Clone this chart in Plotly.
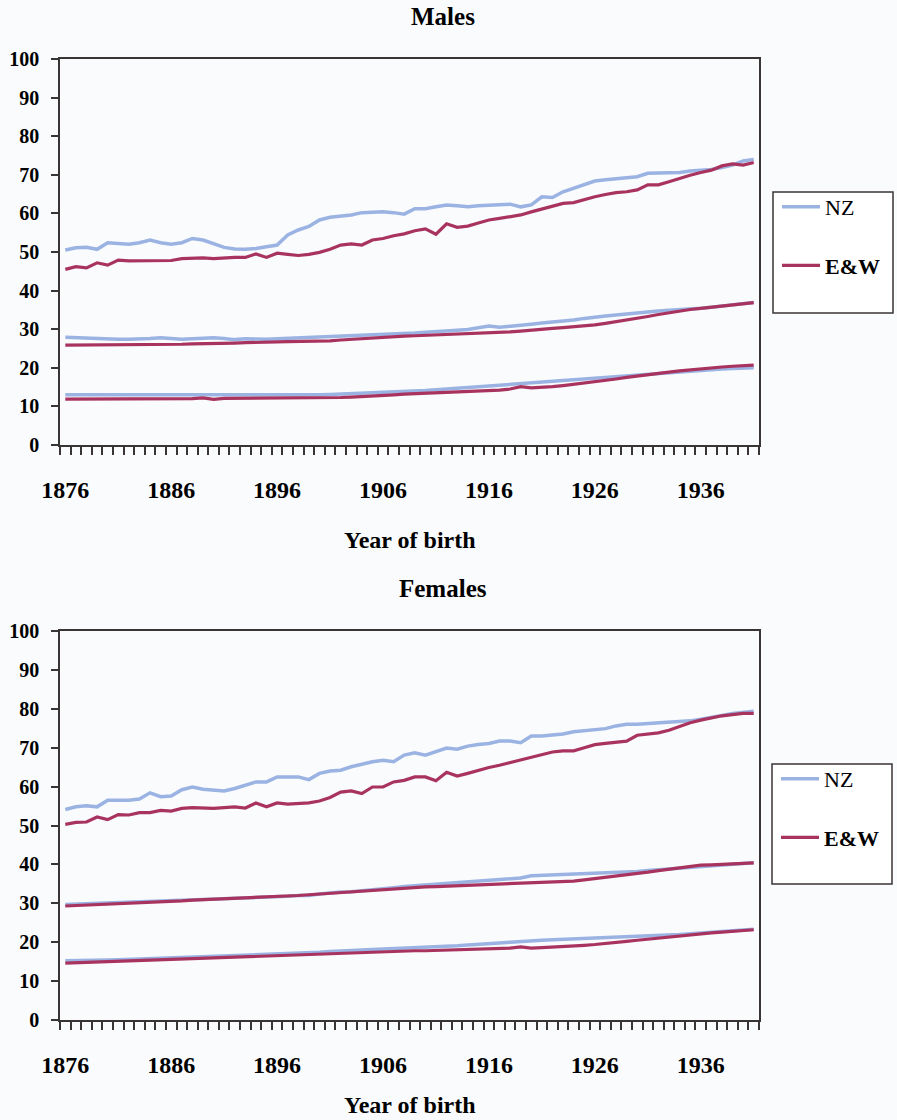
import plotly.graph_objects as go

# Year of birth, one category per year
years = list(range(1876, 1942))
year_ticks = [1876, 1886, 1896, 1906, 1916, 1926, 1936]
y_ticks = list(range(0, 101, 10))

# ---- Males ----
males_nz_upper = [50.5, 51.1, 51.2, 50.7, 52.4, 52.1, 52.0, 52.4, 53.1, 52.4,
                  52.0, 52.4, 53.5, 53.1, 52.1, 51.2, 50.8, 50.7, 50.9, 51.4,
                  51.8, 54.4, 55.7, 56.6, 58.3, 59.0, 59.3, 59.6, 60.2, 60.4,
                  60.4, 60.2, 59.8, 61.2, 61.2, 61.7, 62.2, 62.0, 61.7, 62.0,
                  62.2, 62.4, 62.4, 61.7, 62.2, 64.3, 64.1, 65.6, 66.5, 67.6,
                  68.4, 68.7, 68.9, 69.3, 69.5, 70.4, 70.4, 70.6, 70.6, 71.0,
                  71.1, 71.4, 71.9, 72.5, 73.6, 74.0]
males_ew_upper = [45.5, 46.2, 45.9, 47.2, 46.6, 47.9, 47.7, 47.7, 47.8, 47.9,
                  47.8, 48.3, 48.5, 48.5, 48.3, 48.5, 48.6, 48.6, 49.5, 48.6,
                  49.7, 49.4, 49.1, 49.4, 49.9, 50.7, 51.8, 52.1, 51.8, 53.1,
                  53.5, 54.2, 54.7, 55.5, 56.0, 54.6, 57.3, 56.4, 56.7, 57.5,
                  58.3, 58.7, 59.2, 59.6, 60.4, 61.1, 61.9, 62.6, 62.8, 63.6,
                  64.3, 64.9, 65.4, 65.6, 66.1, 67.4, 67.4, 68.2, 69.1, 69.9,
                  70.6, 71.2, 72.3, 72.8, 72.5, 73.2]
males_nz_middle = [27.9, 27.8, 27.5, 27.4, 27.4, 27.4, 27.4, 27.4, 27.6, 27.8,
                   27.5, 27.4, 27.5, 27.6, 27.8, 27.6, 27.3, 27.5, 27.4, 27.4,
                   27.5, 27.6, 27.7, 27.9, 28.0, 28.2, 28.3, 28.4, 28.5, 28.6,
                   28.7, 28.8, 28.9, 29.0, 29.2, 29.3, 29.5, 29.7, 29.9, 30.3,
                   30.8, 30.5, 30.7, 31.0, 31.3, 31.6, 31.8, 32.1, 32.4, 32.8,
                   33.2, 33.4, 33.7, 34.0, 34.3, 34.5, 34.7, 34.9, 35.0, 35.2,
                   35.4, 35.7, 36.0, 36.3, 36.6, 36.9]
males_ew_middle = [25.9, 25.9, 25.9, 25.9, 25.9, 25.9, 25.9, 25.9, 25.9, 25.9,
                   26.0, 26.1, 26.2, 26.2, 26.3, 26.3, 26.4, 26.5, 26.5, 26.6,
                   26.7, 26.8, 26.8, 26.8, 26.9, 27.0, 27.2, 27.4, 27.6, 27.8,
                   27.9, 28.1, 28.2, 28.3, 28.4, 28.5, 28.6, 28.7, 28.8, 28.9,
                   29.0, 29.1, 29.3, 29.5, 29.8, 30.0, 30.2, 30.4, 30.6, 30.8,
                   31.1, 31.5, 31.9, 32.3, 32.8, 33.3, 33.8, 34.3, 34.8, 35.1,
                   35.4, 35.7, 36.0, 36.3, 36.6, 36.9]
males_nz_lower = [13.0, 13.0, 13.0, 13.0, 13.0, 13.0, 13.0, 13.0, 13.0, 13.0,
                  13.0, 13.0, 12.9, 12.9, 13.0, 12.9, 12.8, 12.9, 12.9, 12.9,
                  12.9, 12.9, 13.0, 13.0, 13.0, 13.1, 13.2, 13.2, 13.3, 13.4,
                  13.5, 13.6, 13.8, 13.9, 14.1, 14.3, 14.5, 14.7, 14.9, 15.1,
                  15.3, 15.5, 15.7, 16.0, 16.3, 16.5, 16.7, 16.9, 17.1, 17.3,
                  17.5, 17.7, 17.9, 18.0, 18.2, 18.4, 18.6, 18.8, 19.0, 19.2,
                  19.4, 19.6, 19.7, 19.8, 19.9, 20.0]
males_ew_lower = [11.9, 11.9, 11.9, 11.9, 11.9, 11.9, 11.9, 11.9, 11.9, 11.9,
                  11.9, 11.9, 12.0, 12.2, 11.8, 12.1, 12.1, 12.1, 12.1, 12.1,
                  12.1, 12.1, 12.1, 12.1, 12.1, 12.2, 12.3, 12.4, 12.5, 12.6,
                  12.8, 13.0, 13.2, 13.3, 13.4, 13.5, 13.6, 13.7, 13.9, 14.0,
                  14.1, 14.2, 14.5, 15.1, 14.8, 14.9, 15.1, 15.4, 15.7, 16.0,
                  16.3, 16.7, 17.1, 17.5, 17.9, 18.2, 18.5, 18.9, 19.2, 19.5,
                  19.8, 20.0, 20.2, 20.4, 20.5, 20.7]

# ---- Females ----
females_nz_upper = [54.1, 54.8, 55.1, 54.8, 56.5, 56.5, 56.5, 56.8, 58.4, 57.4,
                    57.6, 59.2, 59.9, 59.3, 59.2, 58.9, 59.5, 60.4, 61.2, 61.2,
                    62.5, 62.5, 62.5, 61.8, 63.4, 64.0, 64.2, 65.1, 65.8, 66.4,
                    66.8, 66.4, 68.1, 68.7, 68.1, 68.9, 69.9, 69.6, 70.4, 70.8,
                    71.1, 71.7, 71.7, 71.3, 73.0, 73.0, 73.2, 73.5, 74.1, 74.3,
                    74.5, 74.9, 75.6, 76.0, 76.0, 76.2, 76.4, 76.5, 76.6, 76.9,
                    77.3, 77.9, 78.3, 78.8, 79.0, 79.4]
females_ew_upper = [50.3, 50.8, 50.9, 52.2, 51.5, 52.8, 52.7, 53.3, 53.3, 53.9,
                    53.7, 54.4, 54.6, 54.4, 54.4, 54.6, 54.8, 54.5, 55.8, 54.8,
                    55.8, 55.5, 55.7, 55.8, 56.3, 57.2, 58.6, 58.9, 58.2, 59.9,
                    59.9, 61.2, 61.6, 62.5, 62.5, 61.5, 63.7, 62.7, 63.4, 64.2,
                    64.9, 65.5, 66.2, 66.9, 67.6, 68.2, 68.9, 69.2, 69.2, 70.0,
                    70.8, 71.1, 71.3, 71.7, 73.2, 73.4, 73.8, 74.5, 75.5, 76.4,
                    77.1, 77.7, 78.2, 78.5, 78.8, 78.8]
females_nz_middle = [29.7, 29.8, 29.8, 29.9, 29.9, 30.0, 30.1, 30.2, 30.3, 30.4,
                     30.5, 30.7, 30.8, 30.9, 31.0, 31.1, 31.2, 31.3, 31.4, 31.5,
                     31.7, 31.8, 32.0, 32.0, 32.4, 32.7, 32.9, 33.0, 33.2, 33.4,
                     33.8, 34.0, 34.3, 34.5, 34.7, 34.9, 35.1, 35.4, 35.6, 35.6,
                     35.8, 36.0, 36.2, 36.5, 37.1, 37.2, 37.2, 37.3, 37.4, 37.5,
                     37.6, 37.8, 37.9, 38.0, 38.2, 38.4, 38.6, 38.8, 39.1, 39.3,
                     39.5, 39.7, 39.9, 40.0, 40.2, 40.4]
females_ew_middle = [29.3, 29.4, 29.5, 29.6, 29.7, 29.8, 29.9, 30.0, 30.1, 30.3,
                     30.5, 30.6, 30.8, 30.9, 31.0, 31.1, 31.2, 31.3, 31.4, 31.5,
                     31.7, 31.8, 32.0, 32.2, 32.4, 32.6, 32.8, 33.0, 33.2, 33.4,
                     33.6, 33.8, 34.0, 34.1, 34.2, 34.3, 34.4, 34.5, 34.5, 34.6,
                     34.7, 34.8, 35.0, 35.1, 35.2, 35.3, 35.3, 35.5, 35.7, 36.0,
                     36.3, 36.6, 36.9, 37.2, 37.6, 38.0, 38.4, 38.8, 39.2, 39.6,
                     39.8, 39.9, 40.0, 40.1, 40.3, 40.4]
females_nz_lower = [15.2, 15.2, 15.3, 15.3, 15.4, 15.5, 15.6, 15.6, 15.7, 15.8,
                    15.9, 16.0, 16.1, 16.2, 16.3, 16.4, 16.5, 16.6, 16.7, 16.7,
                    16.8, 16.9, 17.0, 17.2, 17.4, 17.6, 17.8, 17.9, 18.0, 18.1,
                    18.2, 18.4, 18.6, 18.7, 18.8, 18.9, 19.0, 19.1, 19.3, 19.4,
                    19.6, 19.8, 20.0, 20.2, 20.5, 20.5, 20.6, 20.7, 20.8, 20.9,
                    21.0, 21.1, 21.2, 21.3, 21.4, 21.5, 21.6, 21.8, 22.0, 22.2,
                    22.4, 22.6, 22.8, 23.0, 23.1, 23.3]
females_ew_lower = [14.6, 14.7, 14.8, 14.9, 15.0, 15.1, 15.2, 15.3, 15.4, 15.5,
                    15.6, 15.7, 15.8, 15.9, 16.0, 16.1, 16.2, 16.3, 16.4, 16.5,
                    16.6, 16.7, 16.8, 16.9, 17.0, 17.1, 17.2, 17.3, 17.4, 17.4,
                    17.5, 17.6, 17.7, 17.8, 17.8, 17.9, 17.9, 18.0, 18.0, 18.1,
                    18.2, 18.3, 18.5, 18.8, 18.5, 18.6, 18.7, 18.9, 19.0, 19.2,
                    19.4, 19.6, 19.9, 20.2, 20.5, 20.8, 21.1, 21.4, 21.7, 22.0,
                    22.2, 22.4, 22.6, 22.8, 23.0, 23.2]

NZ_COLOR = "#9BB3E2"
EW_COLOR = "#A9335F"
BG = "#FAFBFD"
AXIS_COLOR = "#3A3535"
SERIF = "Liberation Serif"

W, H = 897, 1120


def px_x(v):
    return v / W


def px_y(v):
    return 1 - v / H


panels = [
    dict(title="Males", xa="x", ya="y", legend="legend",
         nz=[males_nz_upper, males_nz_middle, males_nz_lower],
         ew=[males_ew_upper, males_ew_middle, males_ew_lower],
         top=59, bottom=445, title_y=17, xtitle_y=540,
         box=(773, 192, 893, 313)),
    dict(title="Females", xa="x2", ya="y2", legend="legend2",
         nz=[females_nz_upper, females_nz_middle, females_nz_lower],
         ew=[females_ew_upper, females_ew_middle, females_ew_lower],
         top=631, bottom=1020, title_y=588, xtitle_y=1105,
         box=(772, 764, 892, 884)),
]

fig = go.Figure()

for p in panels:
    for k, series in enumerate(p["nz"]):
        fig.add_trace(go.Scatter(
            x=years, y=series, mode="lines", name="NZ",
            line=dict(color=NZ_COLOR, width=3.5),
            showlegend=(k == 0), legend=p["legend"],
            legendgroup=p["legend"] + "-nz",
            xaxis=p["xa"], yaxis=p["ya"], hoverinfo="skip"))
    for k, series in enumerate(p["ew"]):
        fig.add_trace(go.Scatter(
            x=years, y=series, mode="lines", name="<b>E&W</b>",
            line=dict(color=EW_COLOR, width=3.2),
            showlegend=(k == 0), legend=p["legend"],
            legendgroup=p["legend"] + "-ew",
            xaxis=p["xa"], yaxis=p["ya"], hoverinfo="skip"))

x_domain = [px_x(60), px_x(759)]
boundaries = [y - 0.5 for y in range(1876, 1943)]

layout = dict(
    width=W, height=H,
    paper_bgcolor=BG, plot_bgcolor=BG,
    margin=dict(l=0, r=0, t=0, b=0, autoexpand=False),
    font=dict(family=SERIF, color="black"),
    shapes=[], annotations=[],
)

for i, p in enumerate(panels):
    sfx = "" if i == 0 else "2"
    layout["xaxis" + sfx] = dict(
        domain=x_domain, anchor="y" + sfx, range=[1875.5, 1941.5],
        automargin=False,
        tickmode="array", tickvals=year_ticks,
        ticks="", ticklabelstandoff=22,
        tickfont=dict(family=SERIF, size=24, weight="bold", color="black"),
        showline=True, linecolor=AXIS_COLOR, linewidth=1.5, mirror=True,
        showgrid=False, zeroline=False, fixedrange=True,
        minor=dict(tickmode="array", tickvals=boundaries, ticks="outside",
                   ticklen=8, tickwidth=1.5, tickcolor=AXIS_COLOR,
                   showgrid=False),
    )
    layout["yaxis" + sfx] = dict(
        domain=[px_y(p["bottom"]), px_y(p["top"])], anchor="x" + sfx,
        automargin=False,
        range=[0, 100], tickmode="array", tickvals=y_ticks,
        ticks="outside", ticklen=7, tickwidth=1.5, tickcolor=AXIS_COLOR,
        ticklabelstandoff=8,
        tickfont=dict(family=SERIF, size=20, weight="bold", color="black"),
        showline=True, linecolor=AXIS_COLOR, linewidth=1.5, mirror=True,
        showgrid=False, zeroline=False, fixedrange=True,
    )
    layout["annotations"].append(dict(
        text="<b>" + p["title"] + "</b>", xref="paper", yref="paper",
        x=px_x(443), y=px_y(p["title_y"]), xanchor="center", yanchor="middle",
        showarrow=False, font=dict(family=SERIF, size=25, color="black")))
    layout["annotations"].append(dict(
        text="<b>Year of birth</b>", xref="paper", yref="paper",
        x=px_x(410), y=px_y(p["xtitle_y"]), xanchor="center", yanchor="middle",
        showarrow=False, font=dict(family=SERIF, size=24, color="black")))
    bx0, by0, bx1, by1 = p["box"]
    layout["shapes"].append(dict(
        type="rect", xref="paper", yref="paper",
        x0=px_x(bx0), x1=px_x(bx1), y0=px_y(by1), y1=px_y(by0),
        line=dict(color=AXIS_COLOR, width=1.5), fillcolor="#FFFFFF", layer="below"))
    layout[p["legend"]] = dict(
        x=px_x(bx0 + 4), y=px_y(by0 - 6), xanchor="left", yanchor="top",
        bgcolor="rgba(0,0,0,0)", borderwidth=0,
        font=dict(family=SERIF, size=22, color="black"),
        traceorder="grouped", tracegroupgap=27, itemwidth=38,
    )

fig.update_layout(**layout)
fig.write_html("out.html")
